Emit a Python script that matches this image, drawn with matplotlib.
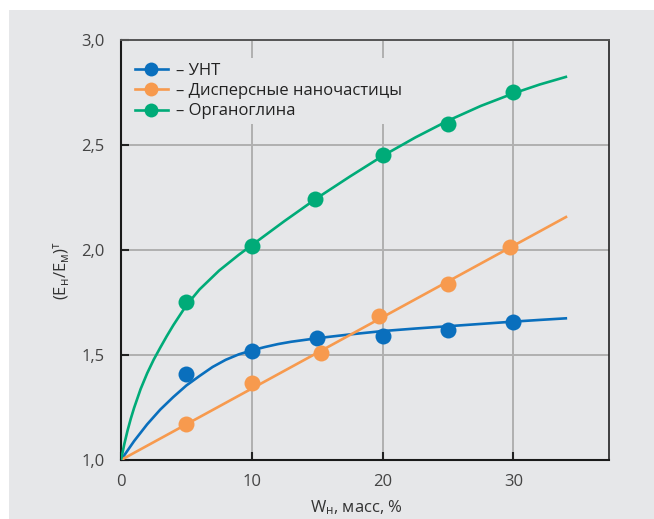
import matplotlib
matplotlib.use("Agg")
import matplotlib.pyplot as plt
from matplotlib.patches import Rectangle

# ---- data ----
unt_x = [5, 10, 15, 20, 25, 30]
unt_y = [1.41, 1.52, 1.58, 1.59, 1.62, 1.655]
disp_x = [5, 10, 15.3, 19.7, 25, 29.7]
disp_y = [1.17, 1.365, 1.51, 1.685, 1.84, 2.015]
org_x = [5, 10, 14.8, 20, 25, 30]
org_y = [1.75, 2.02, 2.245, 2.45, 2.60, 2.75]

# fitted curves
unt_fit_x = [0, 1, 2, 3, 4, 5, 6, 7, 8, 9, 10, 11, 12, 13, 15, 17.5, 20, 22.5, 25, 27.5, 30, 32, 34.1]
unt_fit_y = [1.0, 1.09, 1.17, 1.24, 1.30, 1.355, 1.40, 1.443, 1.477, 1.503, 1.522, 1.538, 1.552, 1.563,
             1.580, 1.598, 1.614, 1.626, 1.637, 1.648, 1.659, 1.667, 1.675]
disp_fit_x = [0, 34.1]
disp_fit_y = [1.0, 2.16]
org_fit_x = [0, 0.25, 0.5, 0.75, 1, 1.5, 2, 2.5, 3, 3.5, 4, 5, 6, 7.5, 9, 10, 12.5, 15, 17.5, 20,
             22.5, 25, 27.5, 30, 32, 34.1]
org_fit_y = [1.0, 1.075, 1.14, 1.197, 1.248, 1.338, 1.413, 1.478, 1.535, 1.59, 1.642, 1.737, 1.812,
             1.902, 1.977, 2.023, 2.138, 2.248, 2.350, 2.448, 2.536, 2.616, 2.686, 2.746, 2.788, 2.826]

labels = ["– УНТ", "– Дисперсные наночастицы", "– Органоглина"]
xticks = [0, 10, 20, 30]
yticks = [1.0, 1.5, 2.0, 2.5, 3.0]
ytick_labels = ["1,0", "1,5", "2,0", "2,5", "3,0"]

# ---- style ----
plt.rcParams['font.family'] = ['Open Sans', 'DejaVu Sans']
plt.rcParams['mathtext.fontset'] = 'custom'
plt.rcParams['mathtext.rm'] = 'Open Sans'
plt.rcParams['mathtext.it'] = 'Open Sans'

BG = '#e6e7e9'
BLUE = '#0a6fbd'
ORANGE = '#f79a4e'
GREEN = '#00ab78'
FS = 12

fig = plt.figure(figsize=(6.54, 5.19), dpi=100, facecolor='white')
fig.patches.append(Rectangle((9 / 654, 0), 1 - 9 / 654, 1 - 10 / 519,
                             transform=fig.transFigure, facecolor=BG, edgecolor='none', zorder=-10))
ax = fig.add_axes([121 / 654, 1 - 460 / 519, (609 - 121) / 654, (460 - 40) / 519])
ax.set_facecolor(BG)

lw = 1.9
ms = 11.5
ax.plot(unt_fit_x, unt_fit_y, color=BLUE, lw=lw, zorder=3, solid_capstyle='butt')
ax.plot(disp_fit_x, disp_fit_y, color=ORANGE, lw=lw, zorder=3, solid_capstyle='butt')
ax.plot(org_fit_x, org_fit_y, color=GREEN, lw=lw, zorder=3, solid_capstyle='butt')
ax.plot(unt_x, unt_y, 'o', color=BLUE, ms=ms, mew=0, zorder=4)
ax.plot(disp_x, disp_y, 'o', color=ORANGE, ms=ms, mew=0, zorder=4)
ax.plot(org_x, org_y, 'o', color=GREEN, ms=ms, mew=0, zorder=4)

# legend proxies
h1, = ax.plot([], [], '-o', color=BLUE, lw=lw, ms=10, mew=0)
h2, = ax.plot([], [], '-o', color=ORANGE, lw=lw, ms=10, mew=0)
h3, = ax.plot([], [], '-o', color=GREEN, lw=lw, ms=10, mew=0)
leg = ax.legend([h1, h2, h3], labels, loc='upper left', bbox_to_anchor=(0.018, 0.957),
                frameon=True, framealpha=1, facecolor=BG, edgecolor='none', fancybox=False,
                fontsize=FS, handlelength=2.0, handletextpad=0.5, labelspacing=0.25,
                borderpad=0.3, borderaxespad=0)
for t in leg.get_texts():
    t.set_color('#222222')
leg.set_zorder(5)

ax.set_xlim(0, 37.3)
ax.set_ylim(1.0, 3.0)
ax.set_xticks(xticks)
ax.set_yticks(yticks)
ax.set_yticklabels(ytick_labels)
ax.grid(True, color='#b0b0b0', lw=1.4, zorder=1)
ax.set_axisbelow(True)

ax.tick_params(direction='in', length=6, width=1.5, color='#222222', labelsize=FS,
               labelcolor='#444444')
ax.tick_params(axis='y', pad=12)
ax.tick_params(axis='x', pad=10)

for side in ['left', 'bottom']:
    ax.spines[side].set_color('#1a1a1a')
    ax.spines[side].set_linewidth(1.5)
ax.spines['top'].set_color('#555555')
ax.spines['top'].set_linewidth(1.4)
ax.spines['right'].set_color('#222222')
ax.spines['right'].set_linewidth(1.2)

xl = ax.set_xlabel(r'W$_{\mathregular{н}}$, масс, %', fontsize=FS, color='#333333')
yl = ax.set_ylabel(r'(E$_{\mathregular{н}}$/E$_{\mathregular{м}}$)$^{\mathregular{т}}$', fontsize=FS,
                   color='#333333')
xl.set_verticalalignment('center')
yl.set_verticalalignment('center')
ax.xaxis.set_label_coords(0.482, -0.114)
ax.yaxis.set_label_coords(-0.121, 0.45)

fig.savefig('out.png', dpi=100, facecolor=fig.get_facecolor())
